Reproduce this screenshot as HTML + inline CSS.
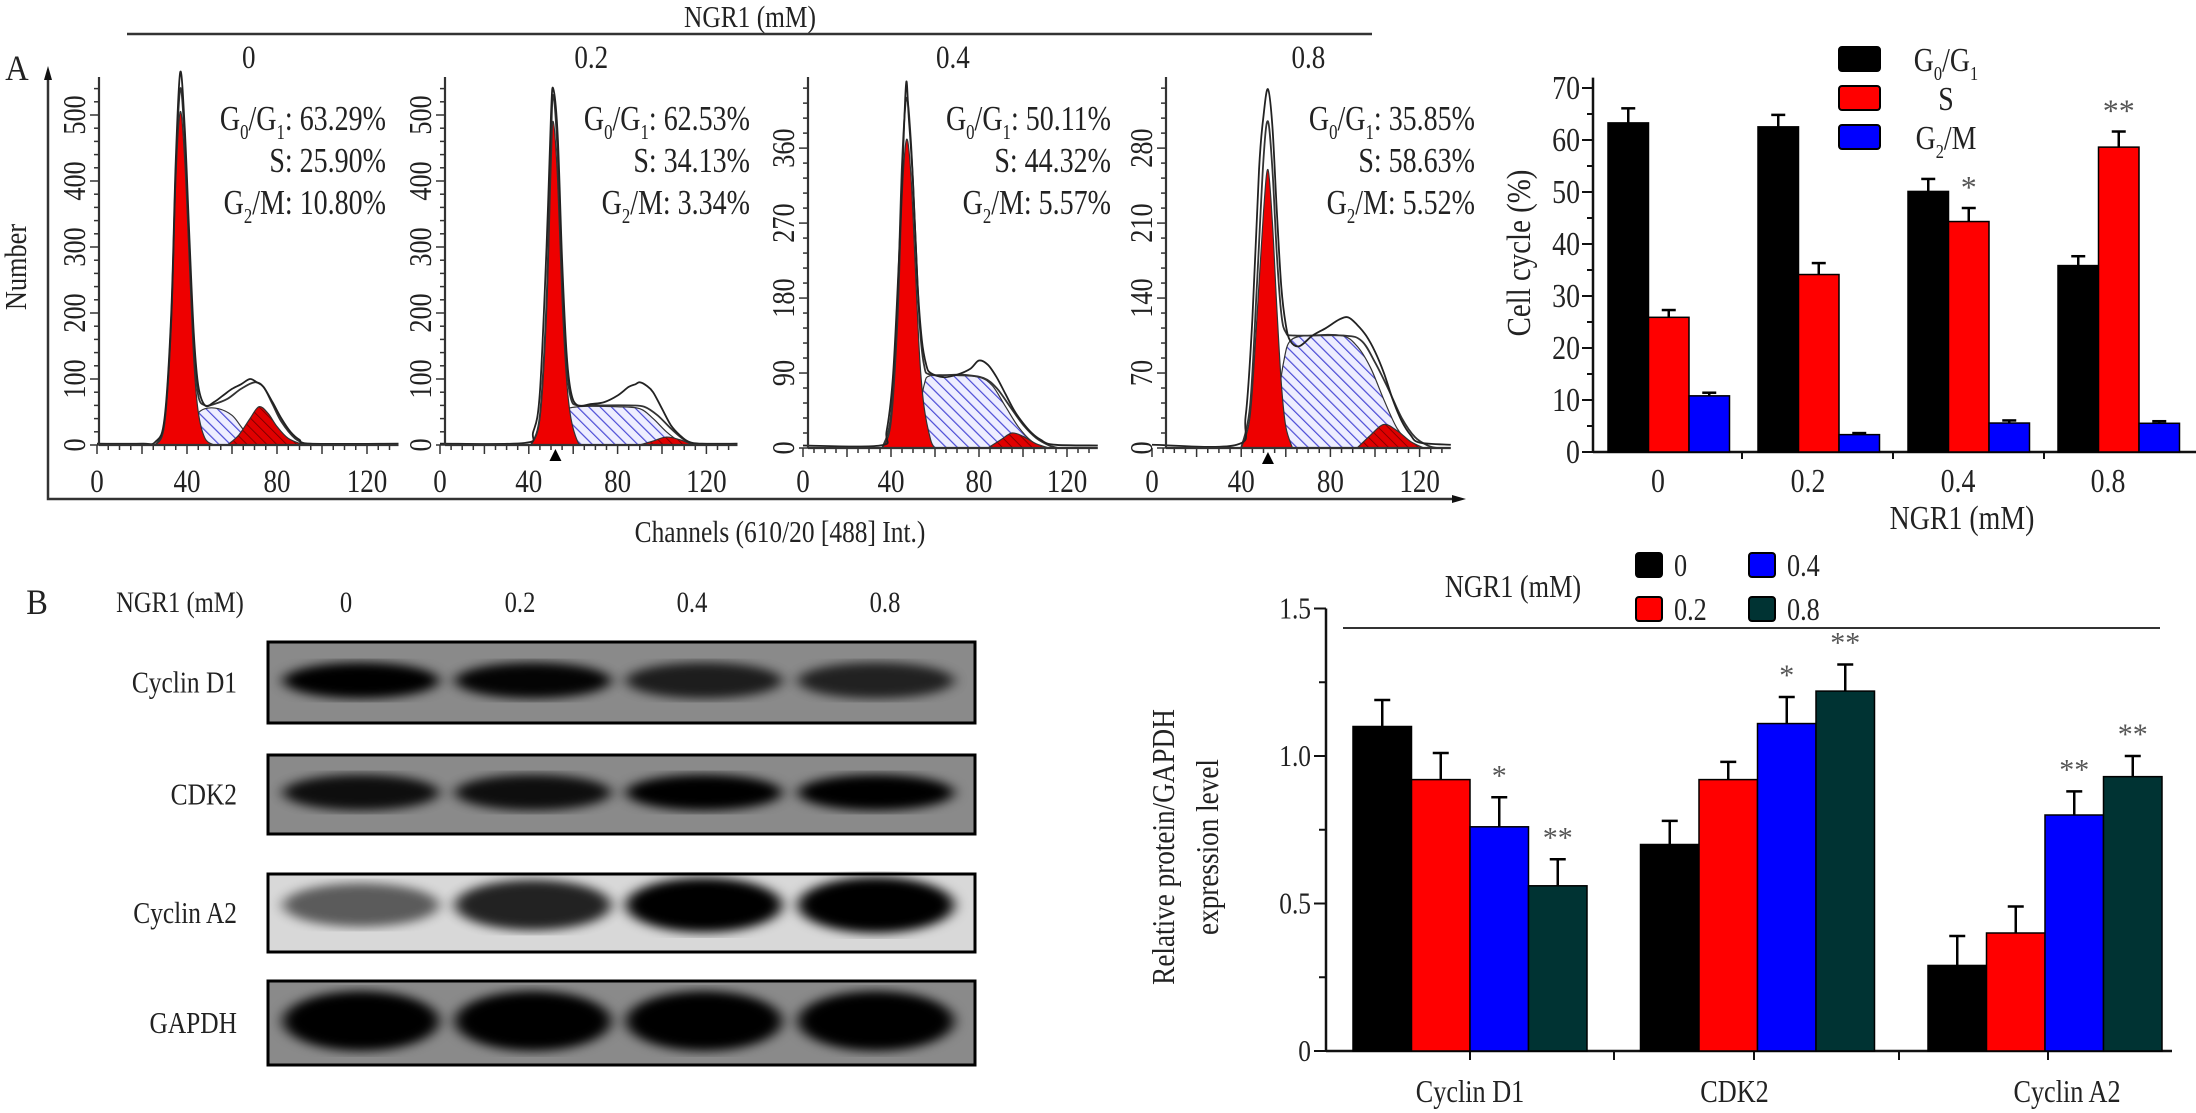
<!DOCTYPE html>
<html><head><meta charset="utf-8"><style>
html,body{margin:0;padding:0;background:#fff;}
svg{display:block;font-family:"Liberation Serif",serif;}
</style></head><body>
<svg id="fig" width="2196" height="1113" viewBox="0 0 2196 1113" xmlns="http://www.w3.org/2000/svg">
<defs>
<pattern id="blueHatch" patternUnits="userSpaceOnUse" width="8" height="8" patternTransform="rotate(-45)">
<rect width="8" height="8" fill="#eeeeff"/><line x1="0" y1="0" x2="0" y2="8" stroke="#4b4bd6" stroke-width="2.4"/></pattern>
<pattern id="redHatch" patternUnits="userSpaceOnUse" width="7" height="7" patternTransform="rotate(-45)">
<rect width="7" height="7" fill="#e00000"/><line x1="0" y1="0" x2="0" y2="7" stroke="#700000" stroke-width="1.6"/></pattern>
<filter id="blur6"><feGaussianBlur stdDeviation="7 5"/></filter>
</defs>
<g id="root"></g>
</svg>
<script>
// ---------- Panel A histogram data (channel, count) ----------
const histTitles=['0','0.2','0.4','0.8'];
const histG1Text=['63.29%','62.53%','50.11%','35.85%'];
const histSText=['25.90%','34.13%','44.32%','58.63%'];
const histG2Text=['10.80%','3.34%','5.57%','5.52%'];
const histYTicks=[[0,100,200,300,400,500],[0,100,200,300,400,500],[0,90,180,270,360],[0,70,140,210,280]];
const histXTicks=[0,40,80,120];
const g1P1=[[26,0],[30,30],[33,180],[35,400],[37,505],[39,430],[41,280],[43,130],[45,50],[48,10],[52,0]];
const sP1=[[36,0],[40,20],[44,45],[48,55],[54,55],[60,45],[64,28],[68,10],[72,0]];
const g2P1=[[58,0],[63,15],[68,40],[72,58],[76,48],[80,28],[85,10],[92,0]];
const rawP1=[[0,2],[20,2],[26,5],[30,40],[33,200],[35,430],[37,565],[39,480],[41,320],[43,170],[45,90],[48,60],[52,65],[56,75],[60,85],[64,92],[68,100],[71,95],[74,88],[78,65],[82,40],[86,20],[90,8],[95,2],[134,2]];
const fitP1=[[26,0],[30,35],[33,190],[35,415],[37,540],[39,460],[41,300],[43,150],[45,75],[48,60],[52,62],[58,70],[64,85],[70,95],[74,88],[78,62],[82,35],[88,10],[94,0]];
const g1P2=[[41,0],[45,40],[48,200],[50,420],[51,490],[53,400],[55,220],[57,100],[59,40],[62,5],[64,0]];
const sP2=[[47,0],[52,20],[56,50],[62,58],[80,58],[90,55],[96,40],[102,20],[108,5],[112,0]];
const g2P2=[[90,0],[96,6],[102,12],[108,8],[114,0]];
const rawP2=[[0,2],[38,3],[42,20],[45,80],[48,300],[50,500],[51,540],[53,470],[55,280],[57,140],[59,80],[62,60],[68,62],[74,65],[80,75],[85,88],[88,92],[90,95],[93,90],[96,80],[100,55],[104,30],[108,15],[112,5],[118,2],[134,2]];
const fitP2=[[41,0],[45,45],[48,220],[50,460],[51,530],[53,440],[55,250],[57,120],[59,70],[62,60],[70,60],[85,60],[92,58],[98,45],[104,25],[110,8],[116,0]];
const g1P3=[[36,0],[40,30],[43,150],[45,300],[47,370],[49,330],[51,220],[53,110],[55,50],[58,10],[60,0]];
const sP3=[[48,0],[52,30],[55,75],[58,87],[70,87],[80,85],[86,75],[92,50],[98,25],[104,8],[110,0]];
const g2P3=[[84,0],[90,10],[95,18],[100,14],[106,5],[112,0]];
const rawP3=[[0,3],[35,3],[38,20],[41,90],[44,250],[46,390],[47,440],[48,400],[50,320],[52,200],[54,130],[56,100],[58,90],[64,85],[70,88],[76,95],[80,105],[84,100],[88,85],[92,65],[96,45],[100,30],[104,18],[108,10],[114,4],[134,3]];
const fitP3=[[36,0],[40,40],[43,180],[45,340],[47,420],[49,370],[51,260],[53,150],[55,100],[58,88],[72,88],[82,84],[88,72],[94,50],[100,28],[106,12],[112,3],[116,0]];
const g1P4=[[40,0],[44,30],[47,120],[50,220],[52,260],[54,210],[56,130],[58,60],[60,20],[63,0]];
const sP4=[[52,0],[56,40],[59,80],[62,100],[70,105],[85,105],[92,95],[98,75],[104,45],[110,18],[116,4],[120,0]];
const g2P4=[[92,0],[98,12],[104,22],[110,16],[116,6],[122,0]];
const rawP4=[[0,3],[38,3],[42,30],[45,120],[48,260],[50,310],[52,335],[54,300],[56,220],[58,150],[60,115],[62,100],[66,95],[72,105],[78,112],[84,120],[88,122],[92,115],[96,105],[100,90],[104,70],[108,45],[112,25],[116,12],[120,5],[134,3]];
const fitP4=[[40,0],[44,40],[47,150],[50,270],[52,305],[54,260],[56,180],[58,125],[60,108],[64,105],[86,105],[94,100],[100,80],[106,55],[112,28],[118,10],[124,2],[128,0]];

// ---------- Cell cycle bar chart data ----------
const ccCats=['0','0.2','0.4','0.8'];
const ccG0G1=[63.29,62.53,50.11,35.85];
const ccG0G1Err=[2.8,2.3,2.4,1.8];
const ccS=[25.90,34.13,44.32,58.63];
const ccSErr=[1.4,2.2,2.6,3.0];
const ccG2M=[10.80,3.34,5.57,5.52];
const ccG2MErr=[0.6,0.3,0.5,0.4];
const ccSStars=['','','*','**'];
const ccTicks=[0,10,20,30,40,50,60,70];

// ---------- Protein expression bar chart data ----------
const protCats=['Cyclin D1','CDK2','Cyclin A2'];
const protDoses=['0','0.2','0.4','0.8'];
const protD0=[1.10,0.70,0.29];
const protD02=[0.92,0.92,0.40];
const protD04=[0.76,1.11,0.80];
const protD08=[0.56,1.22,0.93];
const protErr0=[0.09,0.08,0.10];
const protErr02=[0.09,0.06,0.09];
const protErr04=[0.10,0.09,0.08];
const protErr08=[0.09,0.09,0.07];
const protStars04=['*','*','**'];
const protStars08=['**','**','**'];
const protTicks=[0,0.5,1.0,1.5];

// ---------- Western blot band intensities (0..1) ----------
const blotNames=['Cyclin D1','CDK2','Cyclin A2','GAPDH'];
const blotInt=[[0.95,0.92,0.75,0.72],[0.85,0.85,0.95,0.97],[0.55,0.8,0.95,1.0],[1,1,1,1]];

const NS='http://www.w3.org/2000/svg';
const root=document.getElementById('root');
function el(tag,attrs,parent){const e=document.createElementNS(NS,tag);for(const k in attrs)e.setAttribute(k,attrs[k]);(parent||root).appendChild(e);return e;}
function txt(x,y,s,size,anchor,parent,sx){const t=el('text',{x:0,y:0,'font-size':size,'text-anchor':anchor||'middle',transform:`translate(${x},${y}) scale(${sx||0.82},1)`,fill:'#222'},parent);t.textContent=s;return t;}
function spline(pts){let d=`M${pts[0][0]},${pts[0][1]}`;for(let i=0;i<pts.length-1;i++){const p0=pts[Math.max(0,i-1)],p1=pts[i],p2=pts[i+1],p3=pts[Math.min(pts.length-1,i+2)];const c1=[p1[0]+(p2[0]-p0[0])/6,p1[1]+(p2[1]-p0[1])/6],c2=[p2[0]-(p3[0]-p1[0])/6,p2[1]-(p3[1]-p1[1])/6];d+=` C${c1[0]},${c1[1]} ${c2[0]},${c2[1]} ${p2[0]},${p2[1]}`;}return d;}

// ---------- Panel A frame ----------
let t=txt(17,80,'A',36,'middle',root,0.9);

t=txt(750,27,'NGR1 (mM)',31,'middle');

let ln=el('line',{x1:127,y1:34,x2:1372,y2:34,stroke:'#333','stroke-width':2.5});

ln=el('polyline',{points:'48,76 48,499 1456,499',fill:'none',stroke:'#333','stroke-width':2.5});

el('polygon',{points:'48,66 44,80 52,80',fill:'#111'});
el('polygon',{points:'1466,499 1452,495 1452,503',fill:'#111'});
t=el('text',{x:0,y:0,'font-size':31,'text-anchor':'middle',fill:'#222',transform:'translate(26,267) rotate(-90) scale(0.85,1)'});t.textContent='Number';

t=txt(780,542,'Channels (610/20 [488] Int.)',31,'middle',root,0.82);


const panels=[
 {x0:97,ax:99,ux:2.25,y0:445,uy:0.66,g1:g1P1,s:sP1,g2:g2P1,raw:rawP1,fit:fitP1,tri:false,textR:386},
 {x0:440,ax:445,ux:2.22,y0:445,uy:0.66,g1:g1P2,s:sP2,g2:g2P2,raw:rawP2,fit:fitP2,tri:true,textR:750},
 {x0:803,ax:808,ux:2.2,y0:448,uy:0.833,g1:g1P3,s:sP3,g2:g2P3,raw:rawP3,fit:fitP3,tri:false,textR:1111},
 {x0:1152,ax:1166,ux:2.23,y0:448,uy:1.071,g1:g1P4,s:sP4,g2:g2P4,raw:rawP4,fit:fitP4,tri:true,textR:1475}];
panels.forEach((p,i)=>{
 const g=el('g',{});
 
 
 const X=c=>p.x0+c*p.ux, Y=v=>p.y0-v*p.uy;
 const map=a=>a.map(q=>[X(q[0]),Y(q[1])]);
 const area=a=>spline(map(a))+' Z';
 let e=el('path',{d:area(p.s),fill:'url(#blueHatch)',stroke:'#333','stroke-width':1.2},g);
 
 e=el('path',{d:area(p.g2),fill:'url(#redHatch)',stroke:'#333','stroke-width':1.2},g);
 
 e=el('path',{d:area(p.g1),fill:'#ee0000',stroke:'#333','stroke-width':1.2},g);
 
 e=el('path',{d:spline(map(p.fit)),fill:'none',stroke:'#333','stroke-width':1.8},g);
 
 e=el('path',{d:spline(map(p.raw)),fill:'none',stroke:'#222','stroke-width':1.8},g);
 
 const xEnd=X(134);
 el('line',{x1:p.ax,y1:77,x2:p.ax,y2:p.y0,stroke:'#333','stroke-width':2.2},g);
 el('line',{x1:p.ax,y1:p.y0,x2:xEnd,y2:p.y0,stroke:'#333','stroke-width':2.2},g);
 for(let c=0;c<=134;c+=5){const big=c%20===0;el('line',{x1:X(c),y1:p.y0,x2:X(c),y2:p.y0+(big?9:5),stroke:'#333','stroke-width':1.5},g);}
 histXTicks.forEach(v=>{const tt=txt(X(v),492,String(v),33,'middle',g);});
 const yt=histYTicks[i];const step=yt[1]-yt[0];
 for(let v=0;Y(v)>=78;v+=step/5){const big=Math.abs(v/step-Math.round(v/step))<1e-6;el('line',{x1:p.ax,y1:Y(v),x2:p.ax-(big?9:5),y2:Y(v),stroke:'#333','stroke-width':1.5},g);}
 yt.forEach(v=>{const tt=el('text',{x:0,y:0,'font-size':32,'text-anchor':'middle',fill:'#222',transform:`translate(${p.ax-14},${Y(v)}) rotate(-90) scale(0.82,1)`},g);tt.textContent=String(v);
  });
 if(p.tri){el('polygon',{points:`${X(52)},${p.y0+4} ${X(52)-6},${p.y0+16} ${X(52)+6},${p.y0+16}`,fill:'#000'},g);}
 e=txt((p.ax+xEnd)/2,68,histTitles[i],33,'middle',g);
 
 const sg=el('g',{},g);
 
 const lines=[['G','0','/G','1',': '+histG1Text[i]],['S:','','','','    '+histSText[i]],['G','2','/M','',': '+histG2Text[i]]];
 lines.forEach((L,k)=>{const tt=el('text',{x:0,y:0,'font-size':35,'text-anchor':'end',fill:'#222',transform:`translate(${p.textR},${130+k*42}) scale(0.8,1)`,'xml:space':'preserve'},sg);
  
  const a=el('tspan',{},tt);a.textContent=L[0];
  if(L[1]){const b=el('tspan',{'font-size':21,dy:9},tt);b.textContent=L[1];const c=el('tspan',{dy:-9},tt);c.textContent=L[2];}
  if(L[3]){const b=el('tspan',{'font-size':21,dy:9},tt);b.textContent=L[3];const c=el('tspan',{dy:-9},tt);c.textContent=L[4];}
  else{const c=el('tspan',{},tt);c.textContent=L[4];}
 });
});

// ---------- Cell cycle bar chart ----------
(function(){
 const g=el('g',{});
 
 const Y=v=>452-v*5.2, gx=i=>1608+150*i, bw=40.5;
 el('line',{x1:1593,y1:Y(72),x2:1593,y2:Y(0),stroke:'#111','stroke-width':2.5},g);
 el('line',{x1:1593,y1:Y(0),x2:2196,y2:Y(0),stroke:'#111','stroke-width':2.5},g);
 for(let v=0;v<=70;v+=5){el('line',{x1:1593,y1:Y(v),x2:v%10===0?1582:1587,y2:Y(v),stroke:'#111','stroke-width':2},g);}
 ccTicks.forEach(v=>{const tt=txt(1580,Y(v)+11,String(v),34,'end',g);});
 [1742,1893,2044].forEach(x=>el('line',{x1:x,y1:Y(0),x2:x,y2:Y(0)+7,stroke:'#111','stroke-width':2},g));
 const series=[[ccG0G1,ccG0G1Err,'#000','g0g1'],[ccS,ccSErr,'#ff0000','s-phase'],[ccG2M,ccG2MErr,'#0000ff','g2m']];
 ccCats.forEach((c,i)=>{
  series.forEach((s,j)=>{
   const x=gx(i)+j*bw, v=s[0][i], e=s[1][i];
   el('line',{x1:x+bw/2,y1:Y(v),x2:x+bw/2,y2:Y(v+e),stroke:'#000','stroke-width':2.5},g);
   el('line',{x1:x+bw/2-7,y1:Y(v+e),x2:x+bw/2+7,y2:Y(v+e),stroke:'#000','stroke-width':2.5},g);
   const r=el('rect',{x:x,y:Y(v),width:bw,height:Y(0)-Y(v),fill:s[2],stroke:'#000','stroke-width':1.5},g);
   
  });
  if(ccSStars[i]){const tt=txt(gx(i)+bw*1.5,Y(ccS[i]+ccSErr[i])-10,ccSStars[i],32,'middle',g,1);tt.setAttribute('fill','#555');}
  const tl=txt(gx(i)+50,492,c,34,'middle',g);
 });
 let tt=txt(1962,529,'NGR1 (mM)',34,'middle',g);
 tt=el('text',{x:0,y:0,'font-size':34,'text-anchor':'middle',fill:'#222',transform:'translate(1530,253) rotate(-90) scale(0.85,1)'},g);tt.textContent='Cell  cycle (%)';
 
 const leg=[['#000','G','0','/G','1'],['#ff0000','S'],['#0000ff','G','2','/M']];
 leg.forEach((L,k)=>{const y=47+k*39;
  const lg=el('g',{},g);
  el('rect',{x:1839,y:y,width:41,height:24,rx:3,fill:L[0],stroke:'#000','stroke-width':2},lg);
  const t2=el('text',{x:0,y:0,'font-size':34,'text-anchor':'middle',fill:'#222',transform:`translate(1946,${y+24}) scale(0.82,1)`},lg);
  const a=el('tspan',{},t2);a.textContent=L[1];
  if(L[2]){const b=el('tspan',{'font-size':20,dy:9},t2);b.textContent=L[2];const c2=el('tspan',{dy:-9},t2);c2.textContent=L[3];}
  if(L[4]){const b=el('tspan',{'font-size':20,dy:9},t2);b.textContent=L[4];}
 });
})();

// ---------- Panel B western blot ----------
(function(){
 const g=el('g',{});
 
 let tt=txt(37,614,'B',36,'middle',g,0.9);
 tt=txt(180,612,'NGR1 (mM)',30,'middle',g);
 const laneX=[346,520,692,885];
 protDoses.forEach((d,i)=>{const t2=txt(laneX[i],612,d,30,'middle',g);});
 const boxes=[[642,723],[755,834],[874,952],[981,1065]];
 const bandX=[361,533,704,876];
 blotNames.forEach((n,r)=>{
  const [y1,y2]=boxes[r];const bg=r===2?'#d8d8d8':'#8a8a8a';
  const bx=el('g',{},g);
  el('rect',{x:268,y:y1,width:707,height:y2-y1,fill:bg},bx);
  const cy=r===2?(y1+y2)/2-8:(y1+y2)/2-2;
  blotInt[r].forEach((v,i)=>{const h=r===3?30:(r===2?14+v*14:18);
   el('ellipse',{cx:bandX[i],cy:cy,rx:78,ry:h,fill:'#000',opacity:Math.min(1,v*1.05),filter:'url(#blur6)'},bx);});
  el('rect',{x:268,y:y1,width:707,height:y2-y1,fill:'none',stroke:'#000','stroke-width':3},bx);
  const t2=txt(237,(y1+y2)/2+10,n,31,'end',g);
 });
})();

// ---------- Protein expression bar chart ----------
(function(){
 const g=el('g',{});
 
 const Y=v=>1051-v*295, gx=i=>1353+287.5*i, bw=58.5;
 el('line',{x1:1326,y1:Y(1.5),x2:1326,y2:Y(0),stroke:'#111','stroke-width':2.5},g);
 el('line',{x1:1326,y1:Y(0),x2:2172,y2:Y(0),stroke:'#111','stroke-width':2.5},g);
 for(let v=0;v<=1.5001;v+=0.25){el('line',{x1:1326,y1:Y(v),x2:Math.abs(v*2-Math.round(v*2))<1e-6?1314:1319,y2:Y(v),stroke:'#111','stroke-width':2},g);}
 protTicks.forEach(v=>{const t2=txt(1311,Y(v)+10,v===0?'0':v.toFixed(1),31,'end',g);});
 [1470,1614,1754,1899,2048].forEach(x=>el('line',{x1:x,y1:Y(0),x2:x,y2:Y(0)+9,stroke:'#111','stroke-width':2},g));
 let l=el('line',{x1:1343,y1:628,x2:2160,y2:628,stroke:'#333','stroke-width':2},g);
 
 const series=[[protD0,protErr0,'#000000','0',null],[protD02,protErr02,'#ff0000','0.2',null],[protD04,protErr04,'#0000ff','0.4',protStars04],[protD08,protErr08,'#003333','0.8',protStars08]];
 protCats.forEach((c,i)=>{
  series.forEach((s,j)=>{
   const x=gx(i)+j*bw, v=s[0][i], e=s[1][i];
   el('line',{x1:x+bw/2,y1:Y(v),x2:x+bw/2,y2:Y(v+e),stroke:'#000','stroke-width':2.5},g);
   el('line',{x1:x+bw/2-8,y1:Y(v+e),x2:x+bw/2+8,y2:Y(v+e),stroke:'#000','stroke-width':2.5},g);
   const r=el('rect',{x:x,y:Y(v),width:bw,height:Y(0)-Y(v),fill:s[2],stroke:'#000','stroke-width':1.5},g);
   
   if(s[4]){const t2=txt(x+bw/2,Y(v+e)-12,s[4][i],30,'middle',g,1);t2.setAttribute('fill','#555');}
  });
  const tl=txt(gx(i)+(i===0?117:(i===1?94:139)),1102,c,32,'middle',g);
 });
 let t2=el('text',{x:0,y:0,'font-size':32,'text-anchor':'middle',fill:'#222',transform:'translate(1174,847) rotate(-90) scale(0.85,1)'},g);t2.textContent='Relative protein/GAPDH';
 
 t2=el('text',{x:0,y:0,'font-size':32,'text-anchor':'middle',fill:'#222',transform:'translate(1218,847) rotate(-90) scale(0.85,1)'},g);t2.textContent='expression level';
 
 t2=txt(1513,597,'NGR1 (mM)',32,'middle',g);
 const legPos=[[1636,553],[1636,597],[1749,553],[1749,597]];
 series.forEach((s,j)=>{const [x,y]=legPos[j];
  const lg=el('g',{},g);
  el('rect',{x:x,y:y,width:26,height:24,rx:3,fill:s[2],stroke:'#000','stroke-width':2},lg);
  txt(x+38,y+23,s[3],32,'start',lg);
 });
})();
</script>
</body></html>
